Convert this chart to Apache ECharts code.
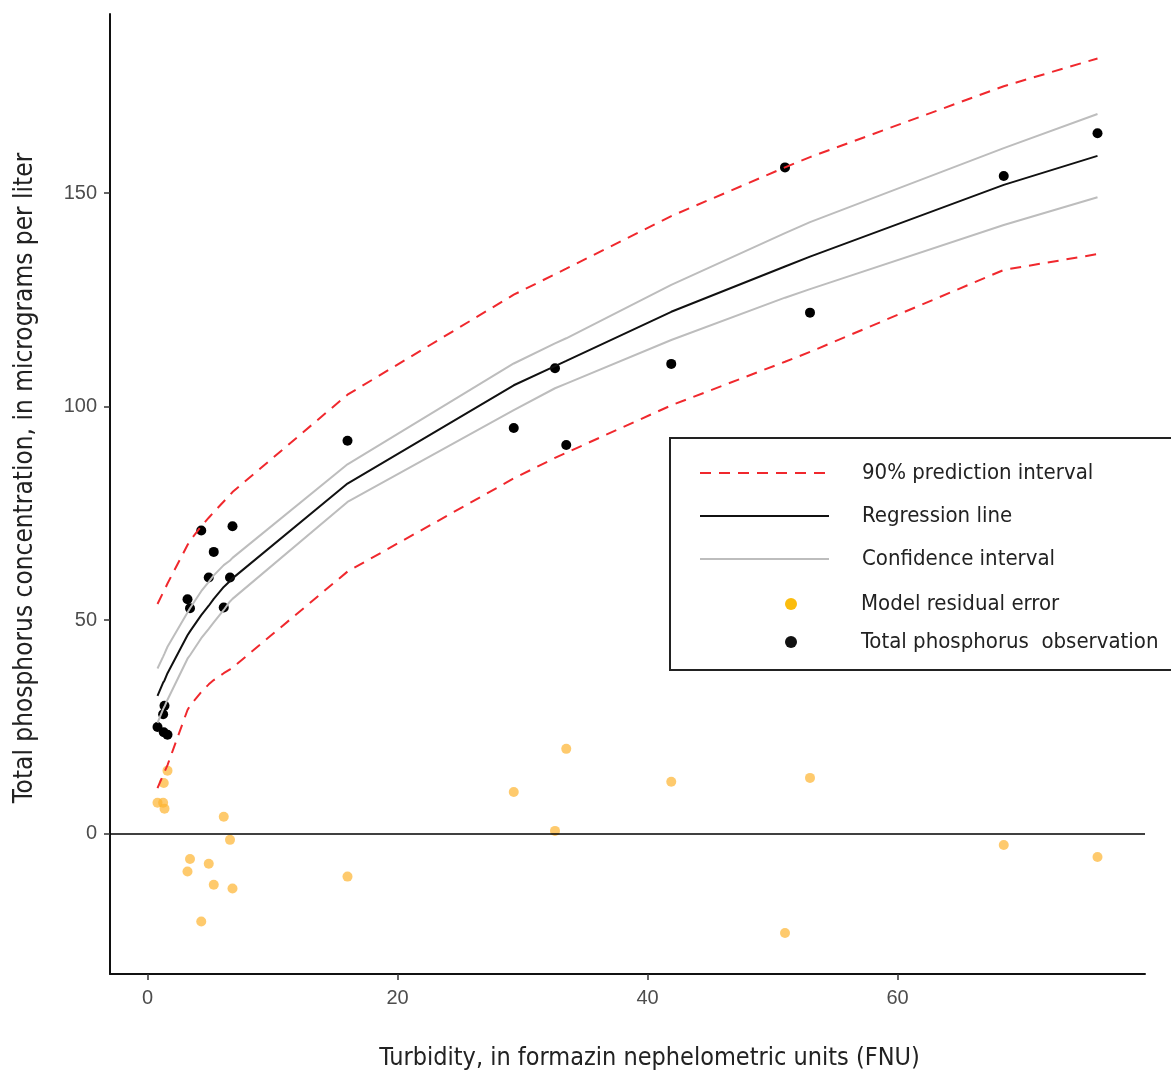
<!DOCTYPE html>
<html>
<head>
<meta charset="utf-8">
<title>Turbidity vs total phosphorus</title>
<script src="https://cdn.jsdelivr.net/npm/echarts@6/dist/echarts.min.js"></script>
<style>
    html, body {
        margin: 0;
        padding: 0;
        background: #fff;
    }

    #chart {
        width: 1171px;
        height: 1074px;
    }
</style>
</head>
<body>
<div id="chart"></div>
<script>
// turbidity (FNU) of each sample, also the x of the fitted curves
var turbidity = [0.8, 1.25, 1.3, 1.36, 1.6, 3.2, 3.4, 4.3, 4.9, 5.3, 6.1, 6.6, 6.8, 16, 29.3, 32.6, 33.5, 41.9, 51, 53, 68.5, 76]
// observed total phosphorus
var observed = [25, 28, 23.8, 30, 23.2, 54.9, 52.8, 71, 60, 66, 53, 60, 72, 92, 95, 109, 91, 110, 156, 122, 154, 164]
// residuals
var residual = [7.3, 7.3, 11.9, 5.9, 14.8, -8.8, -5.9, -20.5, -7.0, -11.9, 4.0, -1.4, -12.8, -10, 9.8, 0.7, 19.9, 12.2, -23.2, 13.1, -2.6, -5.4]
// regression line
var fitted = [32.3, 35.4, 35.7, 35.9, 37.6, 46.5, 47.4, 51.2, 53.4, 55.0, 57.8, 59.2, 59.8, 82.0, 105.0, 109.5, 110.7, 122.2, 132.8, 135.1, 151.9, 158.7]
// confidence interval
var ciUpper = [38.7, 41.5, 41.8, 42.2, 43.8, 51.8, 52.8, 56.8, 59.0, 60.5, 62.9, 64.0, 64.6, 86.5, 110.1, 114.8, 116.0, 128.5, 140.6, 143.2, 160.5, 168.5]
var ciLower = [26.0, 29.2, 29.5, 29.8, 31.4, 41.0, 41.8, 45.8, 48.0, 49.5, 52.4, 54.4, 55.0, 77.7, 99.2, 104.3, 105.4, 115.6, 125.5, 127.5, 142.5, 149.0]
// 90% prediction interval
var piUpper = [53.8, 56.5, 56.8, 57.1, 58.6, 67.6, 68.6, 72.0, 74.0, 75.3, 77.8, 79.3, 80.0, 102.8, 126.2, 131.0, 132.3, 144.6, 156.0, 158.4, 175.0, 181.5]
var piLower = [10.7, 13.8, 14.1, 14.5, 16.1, 29.0, 30.0, 33.2, 35.0, 36.0, 37.6, 38.5, 38.9, 61.4, 83.2, 88.0, 89.2, 100.3, 110.5, 112.8, 132.0, 135.7]

var xTicks = [0, 20, 40, 60]
var yTicks = [0, 50, 100, 150]

function pairs(ys) {
    return turbidity.map(function (x, i) { return [x, ys[i]] })
}

var labelFont = 'Liberation Sans, Arial, sans-serif'
var titleFont = '"Liberation Sans Narrow", "DejaVu Sans Condensed", sans-serif'

// legend swatch without the middle symbol
var noDot = { opacity: 0 }

var chart = echarts.init(document.getElementById('chart'))

var option = {
    animation: false,
    backgroundColor: '#fff',
    grid: { left: 110, right: 26, top: 14, bottom: 100, outerBoundsMode: 'none', containLabel: false },
    xAxis: {
        type: 'value',
        min: -3,
        max: 79.8,
        name: 'Turbidity, in formazin nephelometric units (FNU)',
        nameLocation: 'middle',
        nameGap: 72,
        nameTextStyle: { fontFamily: titleFont, fontSize: 25, color: '#222', padding: [0, 0, 0, 44] },
        splitLine: { show: false },
        axisLine: { onZero: false, lineStyle: { color: '#111', width: 2 } },
        axisTick: { customValues: xTicks, length: 6, lineStyle: { color: '#333', width: 1.5 } },
        axisLabel: { customValues: xTicks, margin: 14, fontFamily: labelFont, fontSize: 20, color: '#4d4d4d' }
    },
    yAxis: {
        type: 'value',
        min: -32.8,
        max: 191.9,
        name: 'Total phosphorus concentration, in micrograms per liter',
        nameLocation: 'middle',
        nameGap: 72,
        nameTextStyle: { fontFamily: titleFont, fontSize: 26, color: '#222', padding: [0, 0, 0, 32] },
        splitLine: { show: false },
        axisLine: { onZero: false, lineStyle: { color: '#111', width: 2 } },
        axisTick: { customValues: yTicks, length: 6, lineStyle: { color: '#333', width: 1.5 } },
        axisLabel: { customValues: yTicks, margin: 13, fontFamily: labelFont, fontSize: 20, color: '#4d4d4d' }
    },
    // legend frame, the right side runs off the picture
    graphic: [{
        type: 'rect',
        z: 3,
        shape: { x: 670, y: 438, width: 520, height: 232 },
        style: { fill: '#fff', stroke: '#222', lineWidth: 2 }
    }],
    legend: [{
        // line items
        orient: 'vertical',
        left: 694,
        top: 457,
        itemWidth: 129,
        itemHeight: 14,
        itemGap: 21,
        data: [
            { name: '90% prediction interval', itemStyle: noDot },
            { name: 'Regression line', itemStyle: noDot },
            { name: 'Confidence interval', itemStyle: noDot }
        ],
        textStyle: { fontFamily: titleFont, fontSize: 22, color: '#222', lineHeight: 22, padding: [0, 0, 0, 28] }
    }, {
        // point items
        orient: 'vertical',
        left: 780,
        top: 588,
        itemWidth: 12,
        itemHeight: 12,
        itemGap: 16,
        data: [
            { name: 'Model residual error', icon: 'circle', itemStyle: { color: '#fbbc0d', opacity: 1 } },
            { name: 'Total phosphorus  observation', icon: 'circle', itemStyle: { color: '#111', opacity: 1 } }
        ],
        textStyle: { fontFamily: titleFont, fontSize: 22, color: '#222', lineHeight: 22, padding: [0, 0, 0, 59] }
    }],
    series: [
        {
            name: '90% prediction interval',
            type: 'line',
            data: pairs(piUpper),
            symbol: 'none',
            color: '#f0282d',
            lineStyle: { color: '#f0282d', width: 2, type: [11, 8] }
        },
        {
            name: '90% prediction interval',
            type: 'line',
            data: pairs(piLower),
            symbol: 'none',
            color: '#f0282d',
            lineStyle: { color: '#f0282d', width: 2, type: [11, 8] }
        },
        {
            name: 'Confidence interval',
            type: 'line',
            data: pairs(ciUpper),
            symbol: 'none',
            color: '#bdbdbd',
            lineStyle: { color: '#bdbdbd', width: 2 }
        },
        {
            name: 'Confidence interval',
            type: 'line',
            data: pairs(ciLower),
            symbol: 'none',
            color: '#bdbdbd',
            lineStyle: { color: '#bdbdbd', width: 2 }
        },
        {
            name: 'Regression line',
            type: 'line',
            data: pairs(fitted),
            symbol: 'none',
            color: '#111',
            lineStyle: { color: '#111', width: 2 },
            // zero reference line
            markLine: {
                silent: true,
                symbol: 'none',
                label: { show: false },
                lineStyle: { color: '#000', width: 1.5, type: 'solid' },
                data: [{ yAxis: 0 }]
            }
        },
        {
            name: 'Model residual error',
            type: 'scatter',
            data: pairs(residual),
            symbolSize: 10,
            itemStyle: { color: '#fdb32f', opacity: 0.7 }
        },
        {
            name: 'Total phosphorus  observation',
            type: 'scatter',
            data: pairs(observed),
            symbolSize: 10,
            itemStyle: { color: '#000', opacity: 1 }
        }
    ]
}

chart.setOption(option)
</script>
</body>
</html>
